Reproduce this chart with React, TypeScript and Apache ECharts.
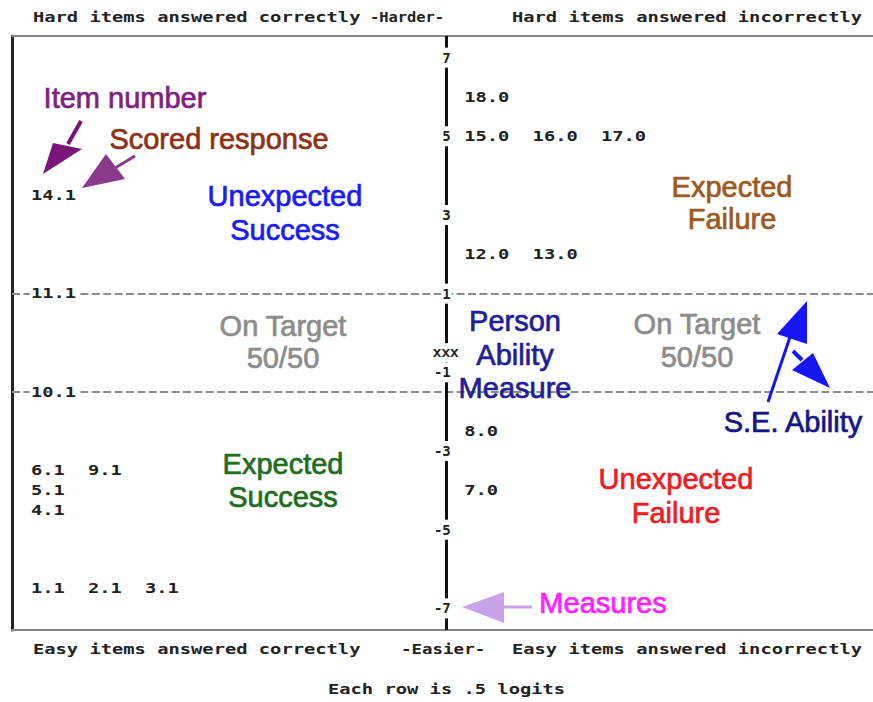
import React, { useEffect, useRef } from 'react';
import * as echarts from 'echarts';

const itemLabels = ['18.0', '15.0', '16.0', '17.0', '14.1', '12.0', '13.0', '11.1', '10.1', '8.0', '6.1', '9.1', '5.1', '7.0', '4.1', '1.1', '2.1', '3.1'];
const itemMeasures = [6, 5, 5, 5, 3.5, 2, 2, 1, -1.5, -2.5, -3.5, -3.5, -4, -4, -4.5, -6.5, -6.5, -6.5];
// text column (character cell) in which each item is printed
const itemColumns = [40, 40, 46, 52, 2, 40, 46, 2, 2, 40, 2, 7, 2, 40, 2, 2, 7, 12];
const personLabel = 'XXX';
const personMeasure = -0.5;
const targetRows = [1, -1.5];
const measureTicks = [7, 5, 3, 1, -1, -3, -5, -7];
const headerTexts = ['Hard items answered correctly', '-Harder-', 'Hard items answered incorrectly'];
const footerTexts = ['Easy items answered correctly', '-Easier-', 'Easy items answered incorrectly'];
const noteText = 'Each row is .5 logits';

// ---- layout ----
const CELL = 11.4;
const X_MIN = 0.45;
const GRID_LEFT = 12;
const GRID_W = 861;
const X_MAX = X_MIN + GRID_W / CELL;
const AXIS_COL = 38.5;
const Y_MIN = -7.55;
const Y_MAX = 7.55;
const MONO = '"DejaVu Sans Mono", monospace';
const SANS = '"Liberation Sans", Arial, sans-serif';
const SX = 1.34;

const monoText = (text: string, x: number, y: number, sx = SX) => ({
  type: 'text', x, y, scaleX: sx, z: 10,
  style: { text, fontFamily: MONO, fontSize: 14, fontWeight: 'bold', fill: '#222', align: 'left', verticalAlign: 'middle' },
});

const ann = (lines: string[], x: number, y0: number, lh: number, color: string) =>
  lines.map((t, i) => ({
    type: 'text', x, y: y0 + i * lh, z: 10,
    style: {
      text: t, fontFamily: SANS, fontSize: 29, fill: color, stroke: color, lineWidth: 0.7,
      align: 'center', verticalAlign: 'middle',
    },
  }));

const arrow = (s: number[], head: number[][], color: string, w = 3) => [
  { type: 'line', z: 10, shape: { x1: s[0], y1: s[1], x2: s[2], y2: s[3] }, style: { stroke: color, lineWidth: w } },
  { type: 'polygon', z: 10, shape: { points: head }, style: { fill: color } },
];

export default function App() {
  const ref = useRef<HTMLDivElement>(null);
  useEffect(() => {
    if (!ref.current) return;
    const chart = echarts.init(ref.current, undefined, { renderer: 'svg' });
    const hiddenX = {
      type: 'value', min: X_MIN, max: X_MAX,
      axisLine: { show: true, onZero: false, lineStyle: { color: '#858585', width: 2 } },
      axisTick: { show: false }, axisLabel: { show: false }, splitLine: { show: false },
    };
    const option: any = {
      animation: false,
      backgroundColor: '#fff',
      grid: { left: GRID_LEFT, right: 0, top: 36, bottom: 72, containLabel: false },
      xAxis: [
        { ...hiddenX, position: 'bottom' },
        { ...hiddenX, position: 'top' },
      ],
      yAxis: [
        {
          type: 'value', min: Y_MIN, max: Y_MAX, position: 'left',
          offset: -(AXIS_COL - X_MIN) * CELL, z: 6,
          axisLine: { show: false },
          axisTick: { show: false }, splitLine: { show: false },
          axisLabel: {
            show: true, customValues: measureTicks, margin: -6,
            fontFamily: MONO, fontSize: 14, fontWeight: 'bold', color: '#222',
            backgroundColor: '#fff', padding: [3, 1],
            formatter: (v: number) => String(v),
          },
        },
        {
          type: 'value', min: Y_MIN, max: Y_MAX, position: 'left',
          axisLine: { show: true, onZero: false, lineStyle: { color: '#2a221c', width: 3 } },
          axisTick: { show: false }, axisLabel: { show: false }, splitLine: { show: false },
        },
      ],
      series: [
        {
          type: 'custom', name: 'Items', xAxisIndex: 0, yAxisIndex: 0, z: 4,
          data: itemColumns.map((c, i) => [c, itemMeasures[i]]),
          renderItem: (params: any, api: any) => {
            const p = api.coord([api.value(0), api.value(1)]);
            return {
              type: 'text', x: p[0], y: p[1], scaleX: SX,
              style: {
                text: itemLabels[params.dataIndex], fontFamily: MONO, fontSize: 14, fontWeight: 'bold',
                fill: '#222', align: 'left', verticalAlign: 'middle', backgroundColor: '#fff', padding: [2, 1],
              },
            };
          },
          markLine: {
            silent: true, symbol: 'none', z: 1, label: { show: false },
            lineStyle: { type: [8, 3.4], color: '#8c8c8c', width: 2 },
            data: targetRows.map((v) => ({ yAxis: v })),
          },
        },
        {
          type: 'custom', name: 'Person', xAxisIndex: 0, yAxisIndex: 0, z: 7,
          data: [[AXIS_COL, personMeasure]],
          renderItem: (params: any, api: any) => {
            const p = api.coord([api.value(0), api.value(1)]);
            return {
              type: 'text', x: p[0], y: p[1], scaleX: 1.3,
              style: {
                text: personLabel, fontFamily: MONO, fontSize: 11, fontWeight: 'bold',
                fill: '#222', align: 'center', verticalAlign: 'middle', backgroundColor: '#fff', padding: [4, 1],
              },
            };
          },
          markLine: {
            silent: true, symbol: 'none', z: 2, label: { show: false },
            lineStyle: { type: 'solid', color: '#111', width: 3 },
            data: [{ xAxis: AXIS_COL }],
          },
        },
      ],
      graphic: [
        monoText(headerTexts[0], 33, 17),
        monoText(headerTexts[1], 370, 17, 1.1),
        monoText(headerTexts[2], 512, 17),
        monoText(footerTexts[0], 33, 649),
        monoText(footerTexts[1], 401, 649, 1.25),
        monoText(footerTexts[2], 512, 649),
        monoText(noteText, 328, 689),
        ...ann(['Item number'], 125, 98, 0, '#7f1f86'),
        ...ann(['Scored response'], 219, 139, 0, '#8c3316'),
        ...ann(['Unexpected', 'Success'], 285, 196, 34, '#1a1aff'),
        ...ann(['Expected', 'Failure'], 732, 187, 32, '#9c5a1e'),
        ...ann(['On Target', '50/50'], 283, 326, 32, '#8c8c8c'),
        ...ann(['On Target', '50/50'], 697, 324, 33, '#8c8c8c'),
        ...ann(['Person', 'Ability', 'Measure'], 515, 321, 33.5, '#1e1e9a'),
        ...ann(['S.E. Ability'], 793, 422, 0, '#14148c'),
        ...ann(['Expected', 'Success'], 283, 464, 33, '#1e6e1e'),
        ...ann(['Unexpected', 'Failure'], 676, 479, 34, '#ee1c24'),
        ...ann(['Measures'], 603, 603, 0, '#ff22ff'),
        ...arrow([81, 121, 68, 144], [[53, 143], [82, 149], [43, 174]], '#7a1478', 4),
        ...arrow([135, 156, 115, 168], [[106, 154], [125, 179], [82, 188]], '#8a3a8a', 3),
        ...arrow([768, 402, 790, 337], [[777, 334], [807, 344], [807, 301]], '#1515f5', 3),
        ...arrow([793, 351, 802, 360], [[792, 370], [813, 353], [830, 388]], '#1515f5', 4),
        ...arrow([532, 607, 500, 607], [[504, 592], [504, 623], [462, 607]], '#c9a3e8', 3),
      ],
    };
    chart.setOption(option);
    return () => chart.dispose();
  }, []);
  return (
    <div
      ref={ref}
      style={{ position: 'fixed', left: 0, top: 0, width: 873, height: 702, background: '#fff' }}
    />
  );
}
